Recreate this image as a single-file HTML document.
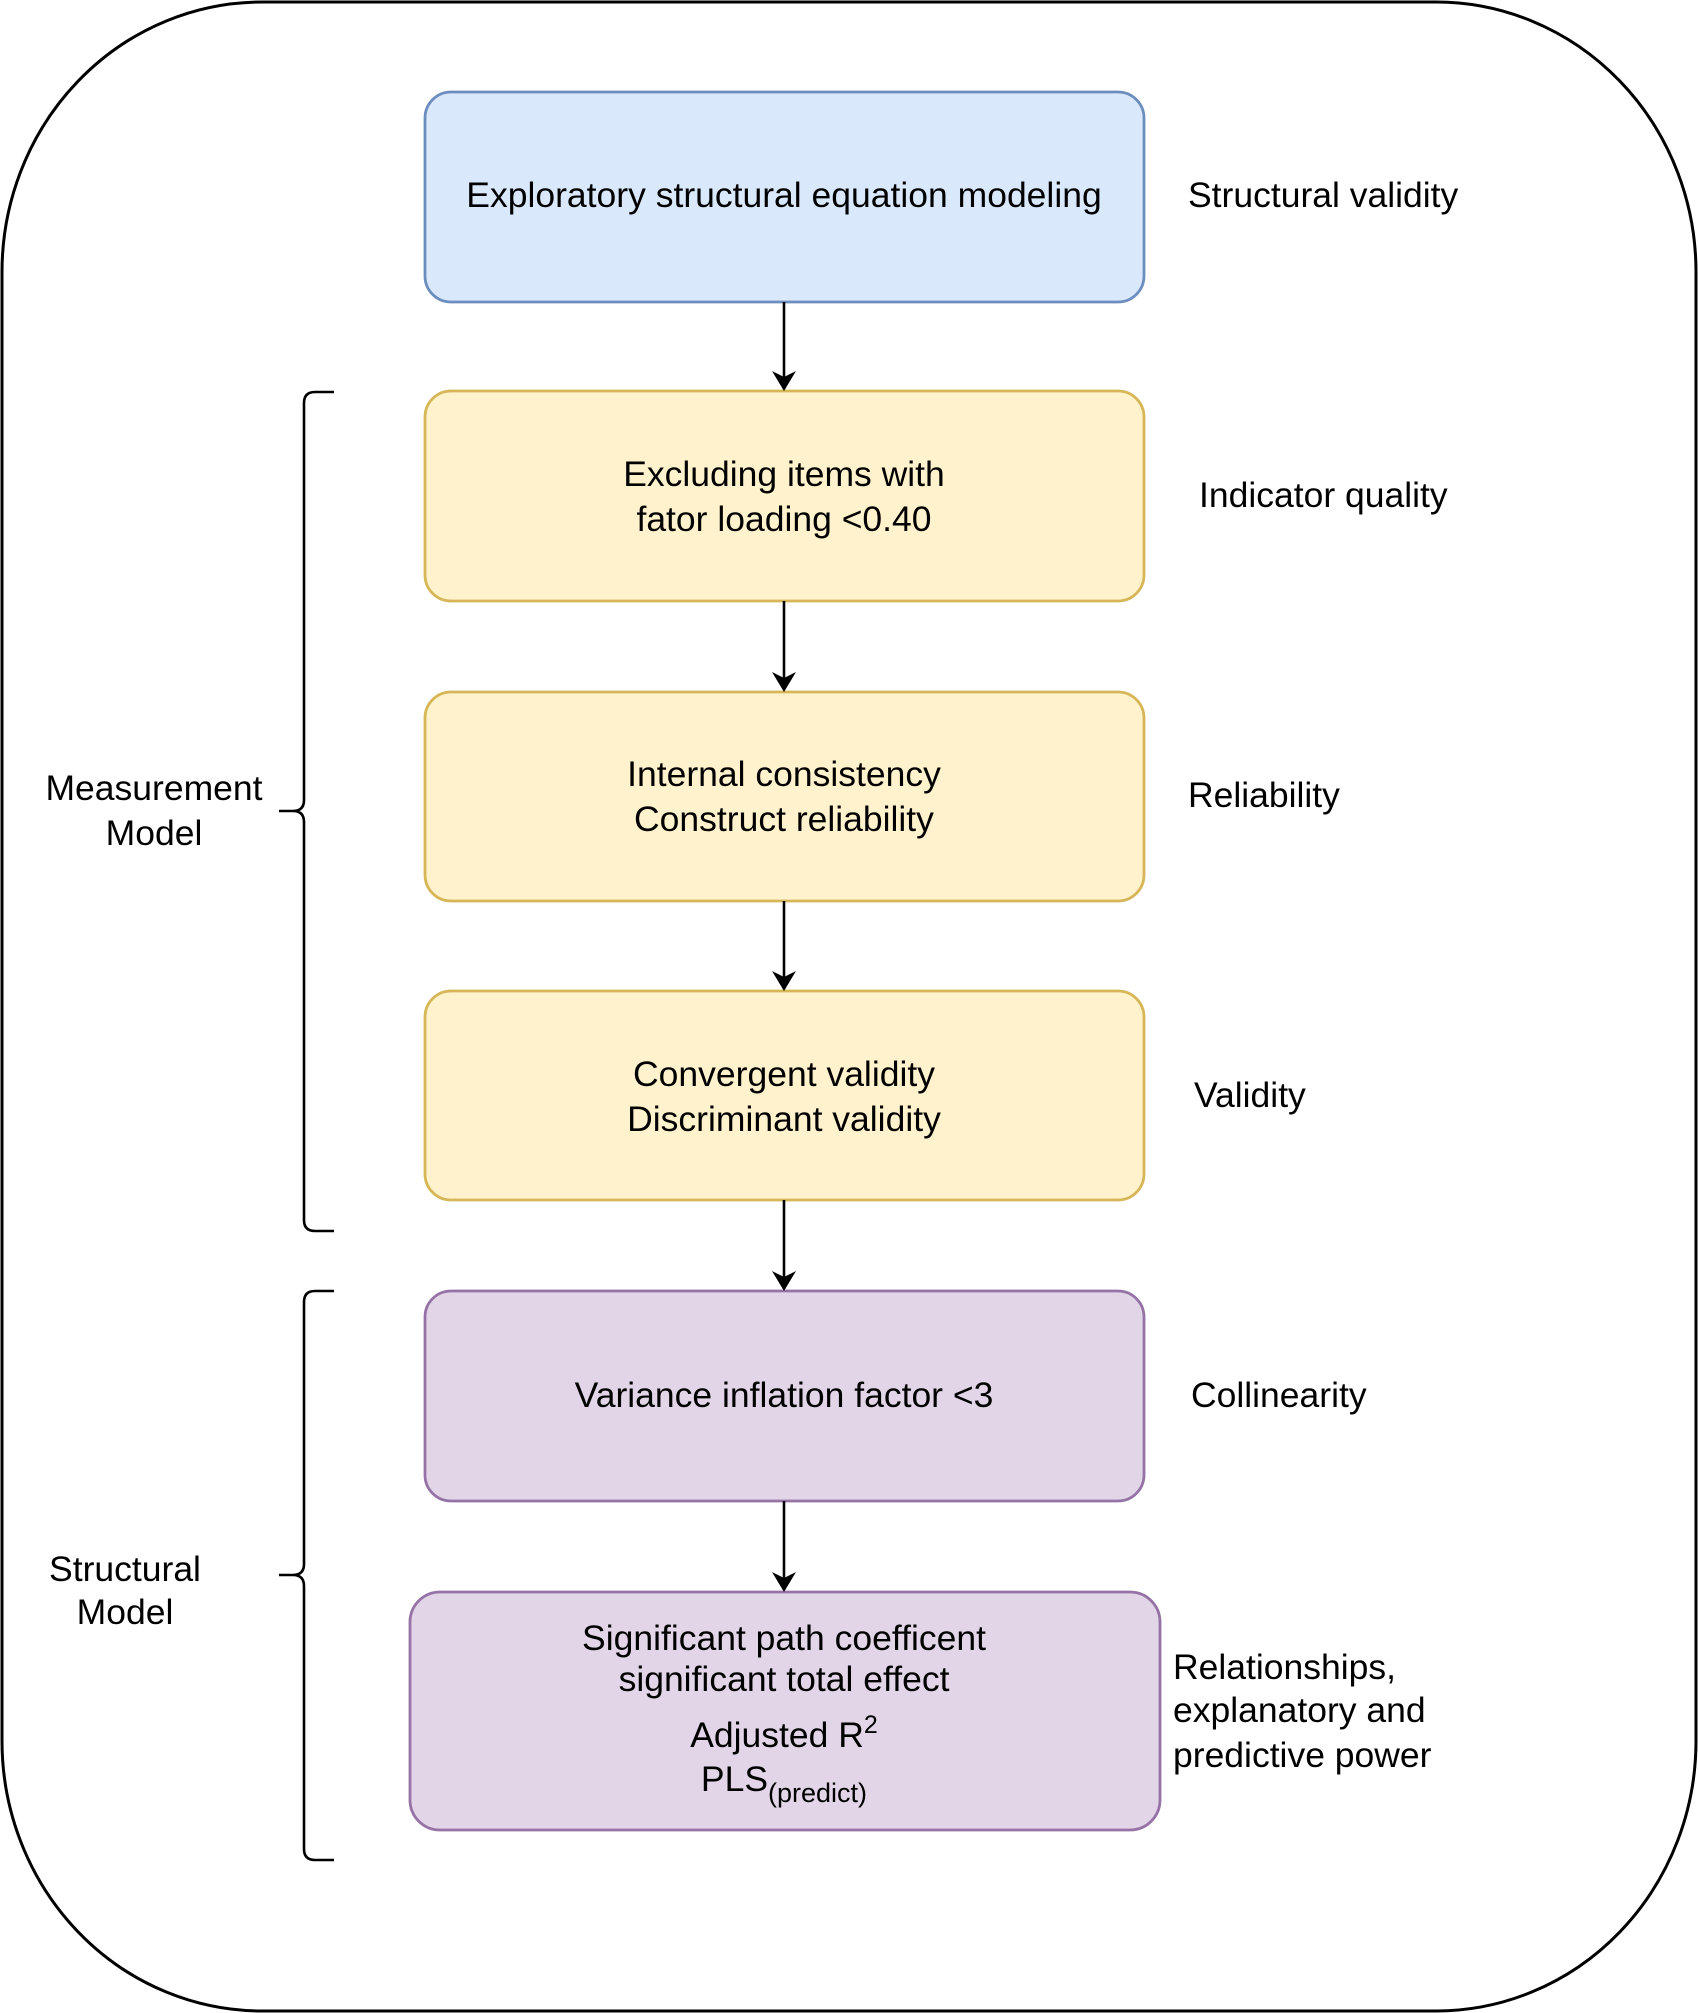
<!DOCTYPE html>
<html><head><style>
html,body{margin:0;padding:0;background:#fff}
svg{display:block}
text{font-family:"Liberation Sans",Arial,sans-serif;font-size:35.5px;fill:#000}
</style></head><body>
<svg width="1698" height="2013" viewBox="0 0 1698 2013" xmlns="http://www.w3.org/2000/svg">
<defs>
<marker id="b" viewBox="0 0 20 24" markerWidth="20" markerHeight="24" refX="18" refY="12" orient="auto" markerUnits="userSpaceOnUse"><path d="M0,0 L20,12 L0,24 L6,12 Z" fill="#000"/></marker></defs>
<rect x="2" y="2" width="1694" height="2009" rx="260" ry="270" fill="#fff" stroke="#000" stroke-width="3"/>
<g stroke-width="2.8">
<rect x="425" y="92" width="719" height="210" rx="26" fill="#dae8fc" stroke="#6c8ebf"/>
<rect x="425" y="391" width="719" height="210" rx="26" fill="#fff2cc" stroke="#d6b656"/>
<rect x="425" y="692" width="719" height="209" rx="26" fill="#fff2cc" stroke="#d6b656"/>
<rect x="425" y="991" width="719" height="209" rx="26" fill="#fff2cc" stroke="#d6b656"/>
<rect x="425" y="1291" width="719" height="210" rx="26" fill="#e1d5e7" stroke="#9673a6"/>
<rect x="410" y="1592" width="750" height="238" rx="30" fill="#e1d5e7" stroke="#9673a6"/>
</g>
<g stroke="#000" stroke-width="2.6" fill="none">
<line x1="784" y1="302" x2="784" y2="389" marker-end="url(#b)"/>
<line x1="784" y1="601" x2="784" y2="690" marker-end="url(#b)"/>
<line x1="784" y1="901" x2="784" y2="989" marker-end="url(#b)"/>
<line x1="784" y1="1200" x2="784" y2="1289" marker-end="url(#b)"/>
<line x1="784" y1="1501" x2="784" y2="1590" marker-end="url(#b)"/>
<path d="M334,392 L315,392 Q304,392 304,403 L304,800 Q304,811 293,811 L279,811 M293,811 Q304,811 304,822 L304,1220 Q304,1231 315,1231 L334,1231"/>
<path d="M334,1291 L315,1291 Q304,1291 304,1302 L304,1564 Q304,1575 293,1575 L279,1575 M293,1575 Q304,1575 304,1586 L304,1849 Q304,1860 315,1860 L334,1860"/>
</g>
<g text-anchor="middle">
<text x="784" y="207">Exploratory structural equation modeling</text>
<text x="784" y="486">Excluding items with</text>
<text x="784" y="531">fator loading &lt;0.40</text>
<text x="784" y="786">Internal consistency</text>
<text x="784" y="831">Construct reliability</text>
<text x="784" y="1086">Convergent validity</text>
<text x="784" y="1131">Discriminant validity</text>
<text x="784" y="1407">Variance inflation factor &lt;3</text>
<text x="784" y="1650">Significant path coefficent</text>
<text x="784" y="1691">significant total effect</text>
<text x="784" y="1747">Adjusted R<tspan dy="-14" font-size="25">2</tspan></text>
<text x="784" y="1791">PLS<tspan dy="11" font-size="27">(predict)</tspan></text>
<text x="154" y="800">Measurement</text>
<text x="154" y="845">Model</text>
<text x="125" y="1581">Structural</text>
<text x="125" y="1624">Model</text>
</g>
<text x="1188" y="207">Structural validity</text>
<text x="1199" y="507">Indicator quality</text>
<text x="1188" y="807">Reliability</text>
<text x="1194" y="1107">Validity</text>
<text x="1191" y="1407">Collinearity</text>
<text x="1173" y="1679">Relationships,</text>
<text x="1173" y="1722">explanatory and</text>
<text x="1173" y="1767">predictive power</text>
</svg>
</body></html>
